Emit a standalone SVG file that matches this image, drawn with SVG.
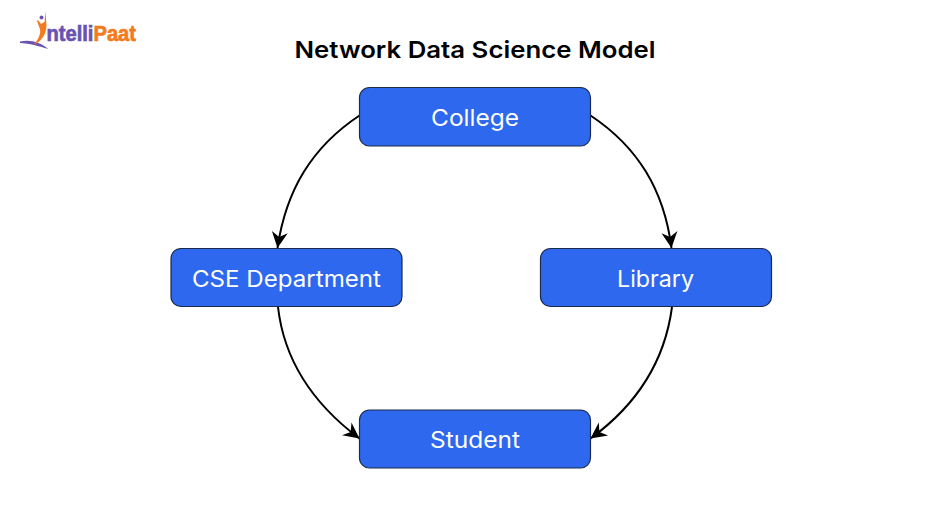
<svg xmlns="http://www.w3.org/2000/svg" width="950" height="506" viewBox="0 0 950 506">
<style>
.box{fill:#2d68ee;stroke:#1c2b4a;stroke-width:1.2}
.lbl{font-family:Inter,"Liberation Sans",sans-serif;font-size:22.500px;font-weight:400;fill:#fff;text-anchor:middle}
.c{fill:none;stroke:#000;stroke-width:2}
.logo{font-family:"Liberation Sans",sans-serif;font-size:22px;font-weight:700;stroke-width:.7}
</style>
<defs><marker id="a" markerUnits="userSpaceOnUse" markerWidth="18" markerHeight="18" refX="16" refY="9" orient="auto"><path d="M0 1L16 9L0 17L5 9Z" fill="#000"/></marker></defs>
<rect width="950" height="506" fill="#fff"/>
<g id="logo">
<path d="M20 41.500C30 39 40 42 48.500 49C38 46 30 43.500 20 43Z" fill="#6a52b0"/>
<path d="M45.500 11L46.500 26C46 34 42 41 34 45C38 39 41 35 40 29L37 21L38 20L41 24L44.500 22Z" fill="#f47a20"/>
<circle cx="41.500" cy="17.500" r="2" fill="#6a52b0"/>
<text class="logo" x="46.500" y="40.500" textLength="89.500" lengthAdjust="spacingAndGlyphs"><tspan fill="#6a52b0" stroke="#6a52b0">ntelli</tspan><tspan fill="#f47a20" stroke="#f47a20">Paat</tspan></text>
</g>
<text id="title" x="475" y="58" font-family="Inter,'Liberation Sans',sans-serif" font-size="23.500" font-weight="600" fill="#000" text-anchor="middle" textLength="361" lengthAdjust="spacingAndGlyphs">Network Data Science Model</text>
<g id="connectors">
<path class="c" marker-end="url(#a)" d="M359.500 115.500C312 147 286 190 277.500 248"/>
<path class="c" marker-end="url(#a)" d="M590.500 115.500C638 147 664 190 671.500 248"/>
<path class="c" marker-end="url(#a)" d="M278 307C284 360 312 403 359.500 438.500"/>
<path class="c" marker-end="url(#a)" d="M672 307C665 360 638 404 590.500 438.500"/>
</g>
<g id="college"><rect class="box" x="359.500" y="87.500" width="231" height="58.500" rx="10"/><text class="lbl" x="475" y="125.500" textLength="88" lengthAdjust="spacingAndGlyphs">College</text></g>
<g id="cse"><rect class="box" x="171" y="248.500" width="231" height="58" rx="10"/><text class="lbl" x="286.500" y="286.500" textLength="189" lengthAdjust="spacingAndGlyphs">CSE Department</text></g>
<g id="library"><rect class="box" x="540.500" y="248.500" width="231" height="58" rx="10"/><text class="lbl" x="655.500" y="286.500" textLength="77" lengthAdjust="spacingAndGlyphs">Library</text></g>
<g id="student"><rect class="box" x="359.500" y="410" width="231" height="58" rx="10"/><text class="lbl" x="475" y="447.500" textLength="90" lengthAdjust="spacingAndGlyphs">Student</text></g>
</svg>
